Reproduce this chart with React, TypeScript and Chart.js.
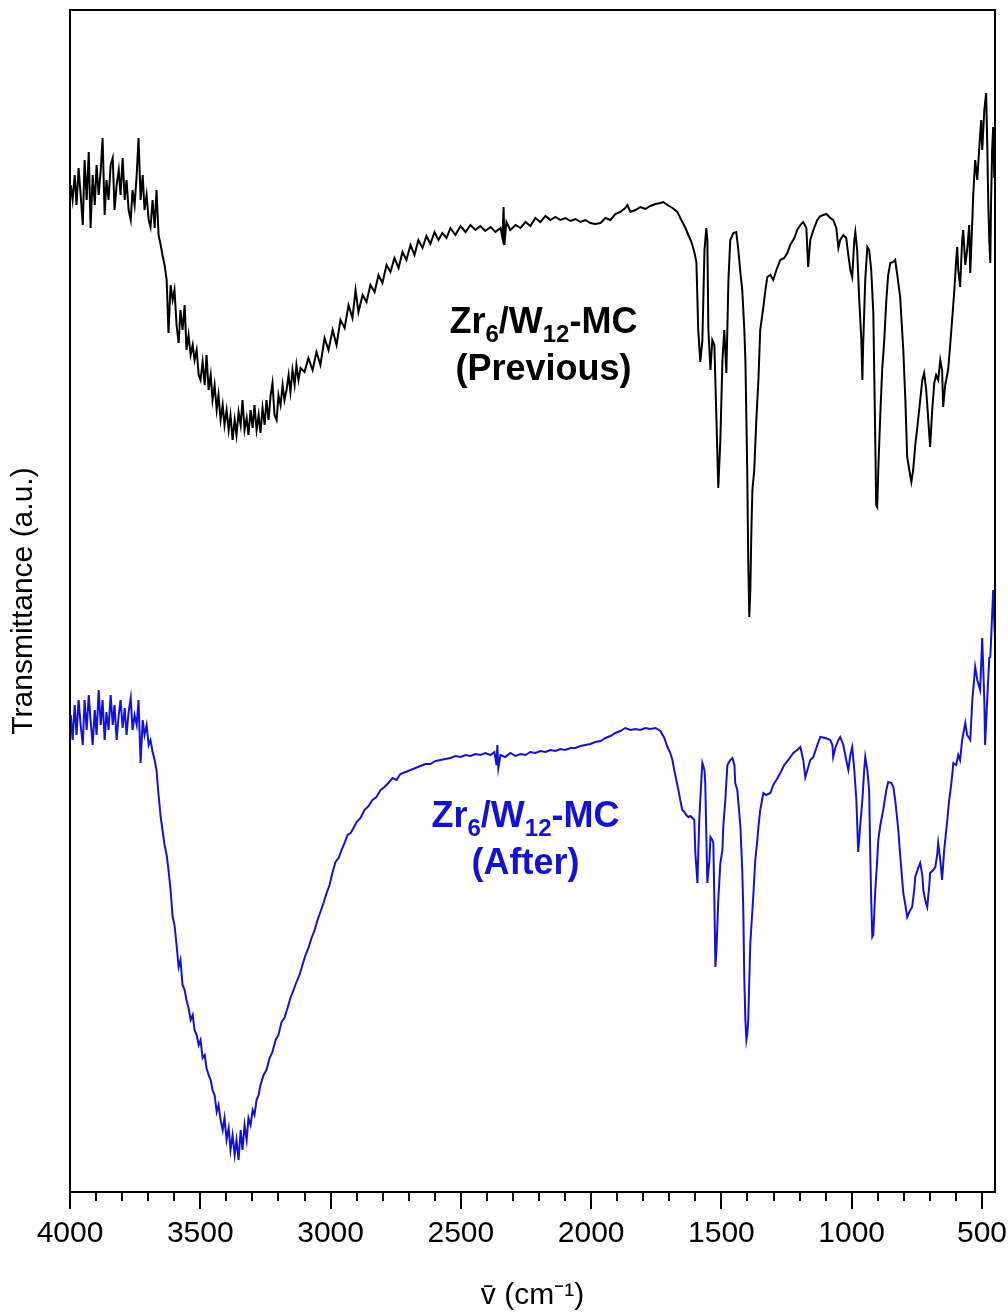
import React, { useEffect, useRef } from "react";
import { Chart, registerables } from "chart.js";

Chart.register(...registerables);

// x axis (wavenumber, cm-1), reversed
const xMaxWn = 4000;
const xMinWn = 450;
const majorTicks = [4000, 3500, 3000, 2500, 2000, 1500, 1000, 500];
const minorTicks = [3900, 3800, 3700, 3600, 3400, 3300, 3200, 3100, 2900, 2800, 2700, 2600, 2400, 2300, 2200, 2100, 1900, 1800, 1700, 1600, 1400, 1300, 1200, 1100, 900, 800, 700, 600];
const yMinT = 0;
const yMaxT = 118.2;

// Series: [wavenumber, transmittance (a.u.)]
const previousSpectrum: [number, number][] = [
  [3997,100.7],[3990,99.2],[3982,101.7],[3975,98.7],[3967,102.4],[3959,99.7],[3951,96.7],[3944,103.2],[3936,99.2],[3928,104.0],
  [3921,96.4],[3913,101.7],[3905,98.7],[3898,102.7],[3890,99.7],[3882,102.2],[3875,105.4],[3867,97.7],[3860,101.2],[3852,99.2],
  [3844,102.7],[3836,103.4],[3829,98.2],[3821,100.7],[3813,102.2],[3806,99.7],[3798,103.4],[3790,99.2],[3783,101.2],[3775,98.2],
  [3767,97.2],[3760,100.2],[3752,98.7],[3744,101.7],[3737,105.4],[3729,99.2],[3721,101.7],[3714,98.2],[3706,99.7],[3698,97.2],
  [3691,96.5],[3683,99.2],[3675,96.4],[3668,100.2],[3660,95.7],[3652,94.7],[3645,93.7],[3637,92.7],[3629,91.2],[3622,85.9],
  [3614,90.7],[3606,89.2],[3599,90.2],[3591,86.7],[3583,84.9],[3576,88.2],[3568,86.2],[3560,88.7],[3553,84.2],[3545,85.7],
  [3537,83.7],[3529,84.7],[3522,83.2],[3514,84.2],[3506,81.7],[3499,81.2],[3491,83.0],[3483,80.7],[3476,83.7],[3468,80.2],
  [3460,81.7],[3453,79.2],[3445,80.7],[3437,78.2],[3430,79.7],[3422,77.2],[3414,78.7],[3407,76.7],[3399,78.2],[3391,76.2],
  [3384,77.7],[3376,75.2],[3368,77.2],[3361,75.7],[3353,78.0],[3345,76.7],[3338,79.2],[3330,76.2],[3322,77.4],[3315,75.7],
  [3307,78.2],[3299,76.4],[3292,78.7],[3284,76.2],[3276,77.7],[3269,75.9],[3261,78.4],[3253,76.7],[3246,79.2],[3238,77.2],
  [3230,79.7],[3223,80.9],[3215,77.7],[3207,77.2],[3200,79.7],[3192,78.7],[3184,80.7],[3177,79.2],[3169,80.2],[3161,81.7],
  [3154,80.0],[3146,82.2],[3138,80.7],[3131,82.7],[3123,81.2],[3115,82.4],[3100,82.0],[3085,83.4],[3069,82.2],[3054,84.0],
  [3039,82.7],[3023,85.4],[3008,84.2],[2992,86.2],[2977,84.7],[2962,87.2],[2946,86.4],[2931,88.7],[2916,87.4],[2904,90.2],
  [2893,88.0],[2877,89.7],[2862,89.0],[2847,90.7],[2831,90.0],[2816,91.7],[2801,90.9],[2785,92.7],[2770,92.0],[2755,93.4],
  [2739,92.4],[2724,94.0],[2709,93.2],[2693,94.7],[2678,93.7],[2663,95.2],[2647,94.4],[2632,95.6],[2617,94.8],[2601,96.0],
  [2586,95.2],[2571,95.9],[2555,95.4],[2540,96.4],[2521,95.7],[2501,96.6],[2482,96.0],[2463,96.7],[2444,96.2],[2425,96.6],
  [2406,96.1],[2386,96.5],[2367,96.0],[2348,96.4],[2340,95.4],[2336,98.5],[2333,94.7],[2325,97.0],[2310,96.2],[2290,96.7],
  [2271,96.4],[2252,97.0],[2233,96.6],[2214,97.4],[2195,97.0],[2175,97.6],[2156,97.2],[2137,97.5],[2118,97.2],[2099,97.4],
  [2079,97.1],[2060,97.3],[2041,97.0],[2022,97.2],[2003,96.9],[1984,96.8],[1964,96.9],[1945,97.4],[1926,97.2],[1907,97.8],
  [1888,98.0],[1869,98.4],[1861,98.7],[1849,98.0],[1830,98.2],[1811,98.5],[1792,98.3],[1773,98.6],[1753,98.8],[1734,98.9],
  [1723,99.0],[1707,98.7],[1688,98.4],[1669,98.0],[1654,97.2],[1638,96.4],[1627,95.7],[1615,95.0],[1604,94.0],[1596,93.0],
  [1592,89.2],[1589,86.2],[1581,83.0],[1573,85.2],[1565,94.2],[1558,96.4],[1554,95.2],[1550,86.2],[1542,82.2],[1535,85.2],
  [1527,84.7],[1519,77.2],[1512,70.4],[1504,75.2],[1496,83.2],[1489,86.2],[1481,81.9],[1473,91.2],[1466,95.2],[1454,95.9],
  [1443,96.0],[1435,94.2],[1427,91.9],[1420,90.2],[1412,86.2],[1408,83.2],[1404,77.2],[1401,72.2],[1397,63.2],[1393,57.5],
  [1389,60.2],[1385,66.2],[1381,70.2],[1374,72.2],[1366,77.2],[1358,81.2],[1351,86.2],[1339,88.5],[1331,90.2],[1324,91.5],
  [1312,91.7],[1301,91.2],[1289,92.2],[1274,93.2],[1259,93.4],[1247,93.9],[1236,94.7],[1220,95.4],[1209,96.2],[1197,96.7],
  [1186,97.0],[1174,96.4],[1167,92.5],[1159,95.2],[1147,96.2],[1132,97.2],[1120,97.6],[1109,97.7],[1097,97.8],[1082,97.4],
  [1071,97.2],[1059,96.4],[1051,94.4],[1044,95.2],[1032,95.7],[1021,95.4],[1013,93.7],[1005,92.2],[998,91.5],[990,95.2],
  [986,96.0],[979,94.2],[971,89.2],[963,85.2],[959,81.2],[956,84.7],[948,91.2],[940,94.5],[933,94.2],[925,92.2],
  [917,87.9],[913,81.2],[909,74.2],[906,68.7],[902,68.5],[898,72.2],[890,77.9],[883,82.2],[875,85.2],[867,89.2],
  [860,91.7],[852,92.9],[840,93.0],[833,93.2],[825,91.7],[814,89.5],[802,84.2],[794,79.2],[787,73.5],[779,72.2],
  [771,71.0],[764,72.2],[756,74.7],[748,76.5],[737,79.2],[729,81.2],[722,81.9],[714,80.2],[706,77.2],[699,74.5],
  [691,78.2],[683,80.9],[676,81.7],[668,81.2],[660,83.2],[653,82.2],[649,78.5],[641,80.7],[630,82.2],[622,84.7],
  [614,87.4],[606,90.2],[599,93.2],[595,94.5],[591,92.2],[584,90.5],[576,95.2],[572,96.2],[564,92.7],[557,94.2],
  [549,96.7],[545,91.9],[537,97.2],[534,99.5],[526,103.2],[518,101.2],[511,104.2],[503,107.2],[499,104.2],[491,108.2],
  [484,109.9],[480,105.2],[476,99.2],[472,95.2],[468,92.9],[465,99.2],[461,104.2],[457,106.5],[453,101.4],[450,105.2]
];

const afterSpectrum: [number, number][] = [
  [3997,47.7],[3990,45.2],[3982,48.7],[3975,45.7],[3967,49.2],[3959,46.7],[3951,44.7],[3944,49.2],[3936,46.2],[3928,49.7],
  [3921,47.2],[3913,44.7],[3905,48.2],[3898,45.7],[3890,50.2],[3882,46.7],[3875,49.2],[3867,45.2],[3860,48.0],[3852,46.2],
  [3844,49.7],[3836,46.7],[3829,48.7],[3821,45.2],[3813,47.7],[3806,49.2],[3798,46.4],[3790,48.4],[3783,45.7],[3775,48.0],
  [3767,49.4],[3760,46.2],[3752,47.7],[3744,46.7],[3737,49.2],[3729,42.9],[3721,47.2],[3714,45.7],[3706,46.7],[3698,44.7],
  [3691,45.2],[3683,44.0],[3675,43.2],[3668,42.2],[3664,40.9],[3660,39.7],[3652,37.5],[3645,36.2],[3637,34.7],[3629,33.7],
  [3622,32.2],[3614,30.2],[3606,27.5],[3599,26.7],[3591,24.7],[3583,22.5],[3576,23.2],[3568,20.7],[3560,20.2],[3553,19.2],
  [3545,18.4],[3537,17.2],[3529,17.7],[3522,16.2],[3514,15.7],[3506,14.7],[3499,15.2],[3491,13.4],[3483,13.7],[3476,12.4],
  [3468,11.7],[3460,11.2],[3453,10.2],[3445,9.7],[3437,8.0],[3430,8.7],[3422,7.2],[3414,6.2],[3407,7.4],[3399,5.2],
  [3391,6.4],[3384,4.2],[3376,5.7],[3368,3.7],[3361,5.2],[3353,3.2],[3345,6.2],[3338,4.2],[3330,6.7],[3322,5.2],
  [3315,7.4],[3307,6.7],[3299,8.2],[3292,7.7],[3284,9.2],[3276,9.7],[3269,10.7],[3257,11.7],[3246,12.2],[3234,13.4],
  [3223,14.0],[3211,15.2],[3200,15.7],[3188,17.0],[3177,17.4],[3165,18.4],[3154,19.4],[3142,20.2],[3131,21.0],[3119,21.7],
  [3108,22.7],[3096,23.7],[3085,24.4],[3073,25.4],[3061,26.2],[3050,27.2],[3039,28.0],[3027,28.9],[3015,29.9],[3004,30.7],
  [2992,32.0],[2981,33.0],[2969,33.4],[2958,34.2],[2946,34.9],[2935,35.7],[2923,35.9],[2912,36.4],[2900,37.0],[2885,37.4],
  [2870,38.2],[2854,38.6],[2839,39.2],[2824,39.5],[2808,40.2],[2793,40.5],[2778,40.9],[2762,41.4],[2747,41.2],[2732,41.8],
  [2712,42.0],[2693,42.2],[2674,42.4],[2655,42.6],[2636,42.8],[2617,42.8],[2597,43.1],[2578,43.2],[2559,43.3],[2540,43.4],
  [2521,43.6],[2501,43.5],[2482,43.7],[2463,43.6],[2444,43.8],[2425,43.7],[2406,43.9],[2386,43.7],[2371,44.0],[2363,42.7],
  [2360,44.7],[2356,42.4],[2348,43.7],[2329,43.5],[2310,43.9],[2290,43.6],[2271,43.8],[2252,43.7],[2233,44.0],[2214,43.9],
  [2195,44.1],[2175,44.0],[2156,44.2],[2137,44.1],[2118,44.3],[2099,44.2],[2079,44.4],[2060,44.4],[2041,44.6],[2022,44.7],
  [2003,44.8],[1984,45.0],[1964,45.1],[1945,45.4],[1926,45.6],[1907,45.9],[1888,46.1],[1869,46.4],[1849,46.2],[1830,46.3],
  [1811,46.2],[1792,46.4],[1773,46.3],[1753,46.4],[1734,46.1],[1719,45.4],[1707,44.5],[1696,43.9],[1688,43.2],[1681,42.2],
  [1673,41.2],[1665,40.2],[1658,39.2],[1650,38.2],[1642,38.0],[1635,37.7],[1627,37.5],[1619,37.6],[1611,37.4],[1604,37.2],
  [1600,33.9],[1592,30.9],[1585,37.2],[1577,41.2],[1573,42.9],[1565,42.2],[1562,40.9],[1558,36.0],[1554,30.9],[1546,33.2],
  [1542,35.5],[1535,35.2],[1531,34.9],[1527,29.2],[1523,22.5],[1519,24.2],[1512,29.2],[1504,32.9],[1496,34.2],[1493,36.5],
  [1485,39.2],[1477,42.7],[1466,43.2],[1458,43.4],[1450,42.7],[1447,40.9],[1439,40.2],[1427,36.5],[1420,32.2],[1416,28.2],
  [1412,21.2],[1408,17.2],[1404,15.2],[1401,15.7],[1397,17.2],[1393,21.2],[1389,24.9],[1381,28.2],[1377,29.9],[1370,33.2],
  [1362,35.2],[1358,36.5],[1351,38.2],[1339,39.9],[1328,39.7],[1312,39.9],[1301,40.7],[1289,41.2],[1274,41.9],[1259,42.7],
  [1243,43.2],[1224,43.9],[1209,44.2],[1197,44.5],[1186,43.2],[1178,41.5],[1170,42.2],[1159,43.2],[1147,43.5],[1132,44.7],
  [1120,45.5],[1101,45.4],[1082,45.2],[1074,44.7],[1071,43.5],[1063,44.4],[1051,45.2],[1044,45.5],[1032,44.7],[1021,43.2],
  [1013,42.2],[1005,43.7],[998,44.5],[990,42.2],[982,39.2],[975,34.0],[967,36.7],[959,39.2],[952,42.2],[948,43.5],
  [940,42.2],[933,40.2],[929,34.2],[925,29.2],[921,25.5],[917,25.7],[910,29.9],[902,33.2],[898,35.2],[890,36.7],
  [879,38.2],[867,40.2],[860,41.0],[848,40.9],[840,40.5],[833,39.2],[821,36.2],[814,33.7],[802,29.9],[794,28.7],
  [787,27.5],[779,28.0],[768,28.5],[760,30.2],[756,31.5],[745,32.4],[737,32.9],[729,31.7],[725,30.2],[718,29.2],
  [710,28.5],[702,30.7],[699,31.9],[687,32.2],[679,32.5],[672,33.7],[668,34.9],[660,33.2],[653,31.2],[645,34.2],
  [633,37.2],[626,39.2],[622,39.9],[614,41.7],[610,42.9],[599,42.7],[591,43.7],[584,43.2],[576,45.2],[564,46.9],
  [557,45.7],[545,45.2],[537,49.2],[526,52.5],[518,51.2],[507,50.2],[499,55.4],[491,49.2],[488,44.7],[480,49.2],
  [472,53.4],[468,53.5],[465,55.2],[457,60.2],[453,57.2],[450,55.2]
];

const seriesNames = ["Zr6/W12-MC (Previous)", "Zr6/W12-MC (After)"];
const seriesColors = ["#000000", "#1212d6"];

// annotation text: [text, isSubscript]
const labelLine1: [string, boolean][] = [["Zr", false], ["6", true], ["/W", false], ["12", true], ["-MC", false]];
const previousLine2 = "(Previous)";
const afterLine2 = "(After)";
// anchor points in data units [wavenumber, T line 1, T line 2] (text baselines)
const previousLabelAt: [number, number, number] = [2183, 85.9, 81.2];
const afterLabelAt: [number, number, number] = [2252, 36.5, 31.8];

const FONT = "'Liberation Sans', Arial, Helvetica, sans-serif";

function drawRich(ctx: CanvasRenderingContext2D, parts: [string, boolean][], cx: number, baseY: number, size: number, color: string) {
  const subSize = Math.round(size * 0.66);
  let total = 0;
  const widths: number[] = [];
  for (const [t, sub] of parts) {
    ctx.font = `bold ${sub ? subSize : size}px ${FONT}`;
    const w = ctx.measureText(t).width;
    widths.push(w);
    total += w;
  }
  let x = cx - total / 2;
  ctx.fillStyle = color;
  ctx.textAlign = "left";
  ctx.textBaseline = "alphabetic";
  parts.forEach(([t, sub], i) => {
    ctx.font = `bold ${sub ? subSize : size}px ${FONT}`;
    ctx.fillText(t, x, sub ? baseY + size * 0.26 : baseY);
    x += widths[i];
  });
}

const framePlugin = {
  id: "frameAndLabels",
  afterDraw(chart: any) {
    const { ctx, chartArea: a, scales } = chart;
    const xs = scales.x;
    const ys = scales.y;
    ctx.save();
    ctx.strokeStyle = "#000";
    ctx.lineWidth = 2;
    ctx.strokeRect(a.left, a.top, a.right - a.left, a.bottom - a.top);
    ctx.beginPath();
    for (const v of majorTicks) {
      const px = Math.round(xs.getPixelForValue(v));
      ctx.moveTo(px, a.bottom);
      ctx.lineTo(px, a.bottom + 17);
    }
    for (const v of minorTicks) {
      const px = Math.round(xs.getPixelForValue(v));
      ctx.moveTo(px, a.bottom);
      ctx.lineTo(px, a.bottom + 9);
    }
    ctx.stroke();

    const labels: [[number, number, number], string, string][] = [
      [previousLabelAt, previousLine2, seriesColors[0]],
      [afterLabelAt, afterLine2, seriesColors[1]],
    ];
    for (const [at, line2, color] of labels) {
      const cx = xs.getPixelForValue(at[0]);
      const y1 = ys.getPixelForValue(at[1]);
      const y2 = ys.getPixelForValue(at[2]);
      drawRich(ctx, labelLine1, cx, y1, 36, color);
      ctx.font = `bold 36px ${FONT}`;
      ctx.textAlign = "center";
      ctx.fillStyle = color;
      ctx.fillText(line2, cx, y2);
    }
    ctx.restore();
  },
};

export default function App() {
  const ref = useRef<HTMLCanvasElement | null>(null);
  useEffect(() => {
    if (!ref.current) return;
    Chart.defaults.font.family = FONT;
    Chart.defaults.color = "#000";
    const chart = new Chart(ref.current, {
      type: "line",
      data: {
        datasets: [previousSpectrum, afterSpectrum].map((s, i) => ({
          label: seriesNames[i],
          data: s.map(([x, y]) => ({ x, y })),
          borderColor: seriesColors[i],
          backgroundColor: seriesColors[i],
          borderWidth: 2,
          pointRadius: 0,
          tension: 0,
          fill: false,
        })),
      },
      options: {
        animation: false,
        responsive: false,
        parsing: false as any,
        layout: { padding: { left: 0, right: 13, top: 10, bottom: 0 } },
        plugins: { legend: { display: false }, tooltip: { enabled: false } },
        scales: {
          x: {
            type: "linear",
            reverse: true,
            min: xMinWn,
            max: xMaxWn,
            grid: { display: false, drawTicks: false },
            border: { display: false },
            afterBuildTicks: (scale: any) => {
              scale.ticks = majorTicks.map((v) => ({ value: v }));
            },
            afterFit: (scale: any) => {
              scale.height = 122;
              scale.paddingLeft = 0;
              scale.paddingRight = 0;
            },
            ticks: {
              autoSkip: false,
              maxRotation: 0,
              padding: 24,
              font: { size: 30 },
              color: "#000",
              callback: (v: any) => String(v),
            },
            title: {
              display: true,
              text: "v\u0304 (cm\u207B\u00B9)",
              font: { size: 30 },
              color: "#000",
              padding: { top: 0, bottom: 0 },
            },
          },
          y: {
            type: "linear",
            min: yMinT,
            max: yMaxT,
            grid: { display: false, drawTicks: false },
            border: { display: false },
            ticks: { display: false },
            afterFit: (scale: any) => {
              scale.width = 70;
            },
            title: {
              display: true,
              text: "Transmittance (a.u.)",
              font: { size: 30 },
              color: "#000",
              padding: { top: 6, bottom: 0 },
            },
          },
        },
      },
      plugins: [framePlugin],
    });
    return () => chart.destroy();
  }, []);
  return (
    <div style={{ position: "absolute", left: 0, top: 0, width: 1008, height: 1314, background: "#fff" }}>
      <canvas ref={ref} width={1008} height={1314} style={{ display: "block" }} />
    </div>
  );
}
